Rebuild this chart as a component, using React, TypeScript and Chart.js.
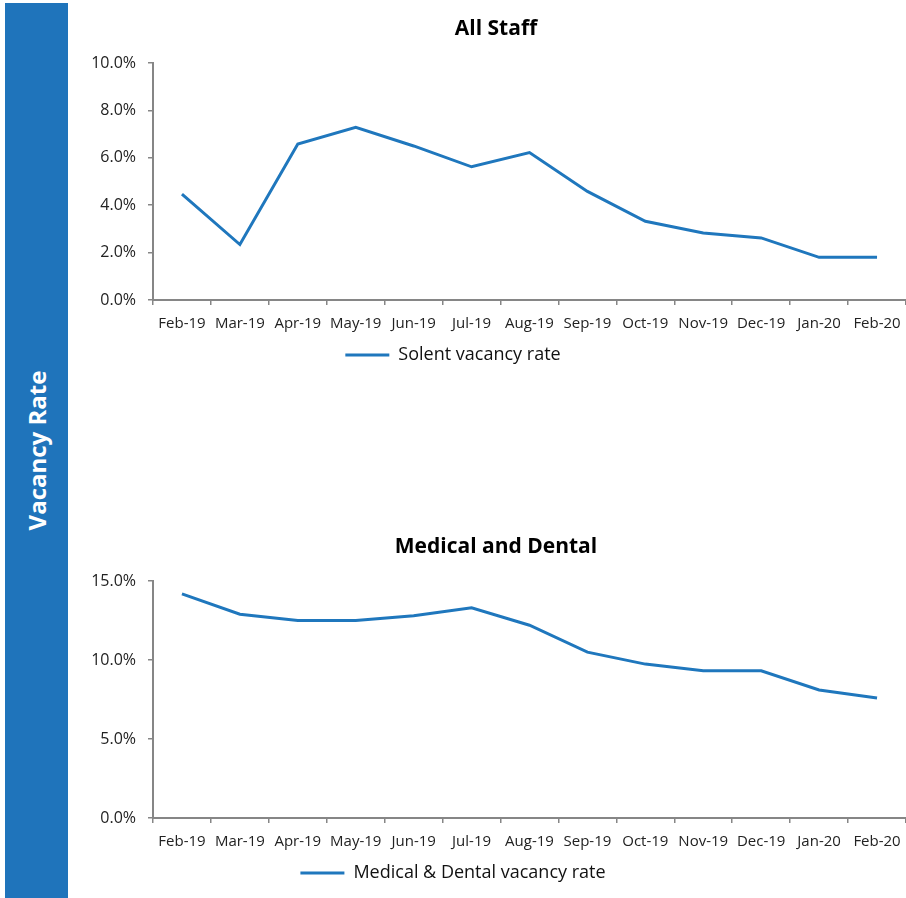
import React, { useEffect, useRef } from "react";
import { Chart, registerables } from "chart.js";

Chart.register(...registerables);

const months = ["Feb-19", "Mar-19", "Apr-19", "May-19", "Jun-19", "Jul-19", "Aug-19", "Sep-19", "Oct-19", "Nov-19", "Dec-19", "Jan-20", "Feb-20"];
const solentRate = [4.47, 2.34, 6.58, 7.29, 6.5, 5.62, 6.22, 4.58, 3.32, 2.83, 2.62, 1.8, 1.8];
const medicalRate = [14.18, 12.9, 12.5, 12.5, 12.8, 13.3, 12.2, 10.5, 9.74, 9.32, 9.32, 8.1, 7.6];

const FONT = "'Open Sans', 'Noto Sans', sans-serif";
const LINE = "#1f77bd";
const AXIS = "#868686";

type Props = {
  top: number;
  title: string;
  legend: string;
  values: number[];
  yMax: number;
  yStep: number;
};

function LineChart({ top, title, legend, values, yMax, yStep }: Props) {
  const ref = useRef<HTMLCanvasElement | null>(null);
  useEffect(() => {
    if (!ref.current) return;
    const chart = new Chart(ref.current, {
      type: "line",
      data: {
        labels: months,
        datasets: [
          {
            label: legend,
            data: values,
            borderColor: LINE,
            backgroundColor: LINE,
            borderWidth: 3,
            pointRadius: 0,
            pointStyle: "line",
            tension: 0,
            fill: false,
          },
        ],
      },
      options: {
        animation: false,
        responsive: false,
        devicePixelRatio: 1,
        layout: { padding: { top: 63, left: 0, right: 0, bottom: 16 } },
        plugins: {
          title: { display: false },
          tooltip: { enabled: false },
          legend: {
            display: true,
            position: "bottom",
            labels: {
              usePointStyle: true,
              pointStyle: "line",
              pointStyleWidth: 44,
              padding: 3,
              color: "#111",
              font: { family: FONT, size: 18 },
            },
          },
        },
        scales: {
          x: {
            type: "category",
            offset: true,
            afterFit: (s: any) => {
              s.paddingLeft = 0;
              s.paddingRight = 0;
            },
            grid: {
              offset: true,
              drawOnChartArea: false,
              drawTicks: true,
              tickLength: 5,
              color: AXIS,
              lineWidth: 1.5,
            },
            border: { color: AXIS, width: 2 },
            ticks: {
              color: "#222",
              padding: 10,
              maxRotation: 0,
              autoSkip: false,
              font: { family: FONT, size: 15 },
            },
          },
          y: {
            min: 0,
            max: yMax,
            afterFit: (s: any) => {
              s.width = 153;
            },
            grid: {
              drawOnChartArea: false,
              drawTicks: true,
              tickLength: 5,
              color: AXIS,
              lineWidth: 1.5,
            },
            border: { color: AXIS, width: 2 },
            ticks: {
              stepSize: yStep,
              color: "#222",
              padding: 12,
              font: { family: FONT, size: 16 },
              callback: (v: any) => Number(v).toFixed(1) + "%",
            },
          },
        },
      },
    });
    return () => chart.destroy();
  }, [legend, values, yMax, yStep]);

  return (
    <>
      <canvas
        ref={ref}
        width={906}
        height={390}
        style={{ position: "absolute", left: 0, top, width: 906, height: 390 }}
      />
      <div
        style={{
          position: "absolute",
          left: 86,
          width: 820,
          top: top + 14,
          height: 26,
          lineHeight: "26px",
          textAlign: "center",
          fontFamily: FONT,
          fontWeight: 700,
          fontSize: 21,
          color: "#000",
        }}
      >
        {title}
      </div>
    </>
  );
}

export default function App() {
  return (
    <div
      style={{
        position: "absolute",
        left: 0,
        top: 0,
        width: 906,
        height: 898,
        overflow: "hidden",
        background: "#fff",
      }}
    >
      <LineChart top={0} title="All Staff" legend="Solent vacancy rate" values={solentRate} yMax={10} yStep={2} />
      <LineChart top={518} title="Medical and Dental" legend="Medical & Dental vacancy rate" values={medicalRate} yMax={15} yStep={5} />
      <div
        style={{
          position: "absolute",
          left: 5,
          top: 3,
          width: 63,
          height: 895,
          background: "#1f74bb",
          display: "flex",
          alignItems: "center",
          justifyContent: "center",
          zIndex: 2,
        }}
      >
        <span
          style={{
            display: "inline-block",
            transform: "rotate(-90deg)",
            whiteSpace: "nowrap",
            color: "#fff",
            fontFamily: FONT,
            fontWeight: 700,
            fontSize: 24,
          }}
        >
          Vacancy Rate
        </span>
      </div>
    </div>
  );
}
